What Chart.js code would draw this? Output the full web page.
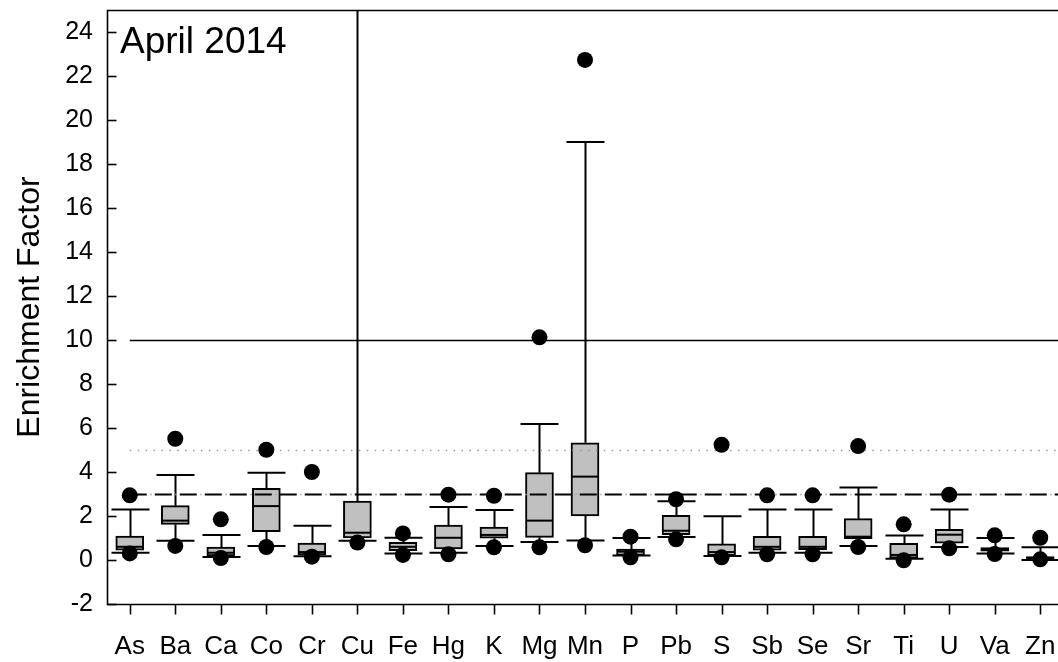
<!DOCTYPE html>
<html>
<head>
<meta charset="utf-8">
<title>Enrichment Factor - April 2014</title>
<script src="https://cdn.jsdelivr.net/npm/chart.js@4.4.1/dist/chart.umd.min.js"></script>
<style>
  html, body { margin: 0; padding: 0; background: #fff; overflow: hidden; }
  canvas { display: block; }
</style>
</head>
<body>
<canvas id="chart" width="1058" height="662"></canvas>
<script>
// Element names along the x axis
const elements = ['As','Ba','Ca','Co','Cr','Cu','Fe','Hg','K','Mg','Mn','P','Pb','S','Sb','Se','Sr','Ti','U','Va','Zn'];

// Box plot statistics per element (enrichment factor)
const pctLow      = [0.30, 0.64, 0.09, 0.59, 0.15, 0.79, 0.23, 0.26, 0.58, 0.58, 0.67, 0.12, 0.94, 0.12, 0.26, 0.26, 0.59, -0.01, 0.53, 0.27, 0.03];
const whiskerLow  = [0.33, 0.88, 0.14, 0.64, 0.17, 0.88, 0.29, 0.33, 0.64, 0.82, 0.89, 0.21, 1.05, 0.18, 0.33, 0.33, 0.64, 0.06, 0.59, 0.30, 0.00];
const quartile1   = [0.45, 1.62, 0.18, 1.29, 0.23, 1.00, 0.42, 0.50, 0.99, 1.03, 2.00, 0.21, 1.15, 0.20, 0.45, 0.47, 0.97, 0.08, 0.76, 0.40, 0.03];
const median      = [0.60, 1.79, 0.33, 2.45, 0.36, 1.24, 0.60, 1.01, 1.14, 1.79, 3.79, 0.38, 1.33, 0.36, 0.60, 0.60, 1.06, 0.23, 1.15, 0.47, 0.09];
const quartile3   = [1.09, 2.47, 0.59, 3.26, 0.77, 2.68, 0.80, 1.59, 1.50, 3.97, 5.33, 0.50, 2.03, 0.73, 1.08, 1.08, 1.88, 0.76, 1.39, 0.56, 0.15];
const whiskerHigh = [2.29, 3.86, 1.14, 3.97, 1.56, 30.0, 1.01, 2.41, 2.27, 6.18, 19.0, 1.00, 2.67, 1.99, 2.29, 2.29, 3.30, 1.11, 2.30, 1.00, 0.58];
const pctHigh     = [2.94, 5.51, 1.85, 5.01, 4.00, null, 1.21, 2.97, 2.92, 10.12, 22.73, 1.06, 2.76, 5.24, 2.94, 2.94, 5.18, 1.62, 2.97, 1.12, 1.01];

// Y axis tick values and reference levels
const yTickValues = [-2, 0, 2, 4, 6, 8, 10, 12, 14, 16, 18, 20, 22, 24];
const solidLevel = 10;
const dottedLevel = 5;
const dashedLevel = 3;

const FONT = '"Liberation Sans", Arial, Helvetica, sans-serif';

const boxData = elements.map((_, i) => ({ x: i, y: [quartile1[i], quartile3[i]] }));
const lowDots = elements.map((_, i) => ({ x: i, y: pctLow[i] }));
const highDots = elements.map((_, i) => ({ x: i, y: pctHigh[i] })).filter(p => p.y !== null);

// Whiskers, medians, reference lines, axes frame and the in-plot label
const boxExtras = {
  id: 'boxExtras',
  beforeDatasetsDraw(chart) {
    const { ctx, chartArea: a, scales: { x, y } } = chart;
    ctx.save();
    ctx.beginPath();
    ctx.rect(a.left, a.top, a.right - a.left, a.bottom - a.top);
    ctx.clip();
    ctx.strokeStyle = '#000';
    ctx.lineWidth = 2;
    const capHalf = 19;
    elements.forEach((_, i) => {
      const px = Math.round(x.getPixelForValue(i)) + 0.5;
      const yHi = y.getPixelForValue(whiskerHigh[i]);
      const yLo = y.getPixelForValue(whiskerLow[i]);
      const yQ1 = y.getPixelForValue(quartile1[i]);
      const yQ3 = y.getPixelForValue(quartile3[i]);
      ctx.beginPath();
      ctx.moveTo(px, yQ3); ctx.lineTo(px, yHi);
      ctx.moveTo(px, yQ1); ctx.lineTo(px, yLo);
      ctx.moveTo(px - capHalf, yHi); ctx.lineTo(px + capHalf, yHi);
      ctx.moveTo(px - capHalf, yLo); ctx.lineTo(px + capHalf, yLo);
      ctx.stroke();
    });
    ctx.restore();
  },
  afterDatasetDraw(chart, args) {
    if (args.index !== 0) return;
    const { ctx, chartArea: a, scales: { x, y } } = chart;
    ctx.save();
    ctx.beginPath();
    ctx.rect(a.left, a.top, a.right - a.left, a.bottom - a.top);
    ctx.clip();
    // medians
    ctx.strokeStyle = '#000';
    ctx.lineWidth = 2;
    elements.forEach((_, i) => {
      const px = x.getPixelForValue(i);
      const py = y.getPixelForValue(median[i]);
      ctx.beginPath();
      ctx.moveTo(px - 13, py); ctx.lineTo(px + 13, py);
      ctx.stroke();
    });
    const x0 = x.getPixelForValue(0);
    const x1 = a.right;
    // solid line
    let py = Math.round(y.getPixelForValue(solidLevel)) + 0.5;
    ctx.lineWidth = 1.6;
    ctx.beginPath(); ctx.moveTo(x0, py); ctx.lineTo(x1, py); ctx.stroke();
    // dotted grey line
    py = Math.round(y.getPixelForValue(dottedLevel)) + 0.5;
    ctx.strokeStyle = '#9a9a9a';
    ctx.lineWidth = 1.5;
    ctx.setLineDash([1.5, 6.4]);
    ctx.beginPath(); ctx.moveTo(x0, py); ctx.lineTo(x1, py); ctx.stroke();
    // dashed line with faint dots in the gaps
    py = Math.round(y.getPixelForValue(dashedLevel)) + 0.5;
    ctx.strokeStyle = '#000';
    ctx.lineWidth = 2;
    ctx.setLineDash([17, 8]);
    ctx.beginPath(); ctx.moveTo(x0, py); ctx.lineTo(x1, py); ctx.stroke();
    ctx.strokeStyle = '#a0a0a0';
    ctx.lineWidth = 1.5;
    ctx.setLineDash([1.5, 23.5]);
    ctx.lineDashOffset = -20.5;
    ctx.beginPath(); ctx.moveTo(x0, py); ctx.lineTo(x1, py); ctx.stroke();
    ctx.restore();
  },
  afterDraw(chart) {
    const { ctx, chartArea: a, scales: { x, y } } = chart;
    ctx.save();
    ctx.strokeStyle = '#000';
    ctx.lineWidth = 1.6;
    const L = Math.round(a.left) + 0.5, B = Math.round(a.bottom) + 0.5, T = Math.round(a.top) + 0.5;
    ctx.beginPath();
    ctx.moveTo(a.right, T); ctx.lineTo(L, T); ctx.lineTo(L, B); ctx.lineTo(a.right, B);
    ctx.stroke();
    // inward y ticks
    yTickValues.forEach(v => {
      const py = Math.round(y.getPixelForValue(v)) + 0.5;
      ctx.beginPath(); ctx.moveTo(L, py); ctx.lineTo(L + 9, py); ctx.stroke();
    });
    // outward x ticks
    elements.forEach((_, i) => {
      const px = Math.round(x.getPixelForValue(i)) + 0.5;
      ctx.beginPath(); ctx.moveTo(px, B); ctx.lineTo(px, B + 10); ctx.stroke();
    });
    // period label
    ctx.fillStyle = '#000';
    ctx.font = '37px ' + FONT;
    ctx.textAlign = 'left';
    ctx.textBaseline = 'alphabetic';
    ctx.fillText('April 2014', a.left + 13, a.top + 43);
    ctx.restore();
  }
};

new Chart(document.getElementById('chart'), {
  type: 'bar',
  data: {
    datasets: [
      {
        type: 'bar',
        label: 'Interquartile range',
        data: boxData,
        backgroundColor: '#c0c0c0',
        borderColor: '#000',
        borderWidth: 2,
        borderSkipped: false,
        barThickness: 28,
        order: 2
      },
      {
        type: 'scatter',
        label: '95th percentile',
        data: highDots,
        pointRadius: 8,
        pointBackgroundColor: '#000',
        pointBorderWidth: 0,
        showLine: false,
        order: 0
      },
      {
        type: 'scatter',
        label: '5th percentile',
        data: lowDots,
        pointRadius: 8,
        pointBackgroundColor: '#000',
        pointBorderWidth: 0,
        showLine: false,
        order: 1
      }
    ]
  },
  options: {
    responsive: false,
    animation: false,
    devicePixelRatio: 1,
    layout: { autoPadding: false, padding: { top: 10, left: 0, right: 0, bottom: 0 } },
    plugins: { legend: { display: false }, tooltip: { enabled: false } },
    scales: {
      x: {
        type: 'linear',
        // the plot frame runs past the page edge; only this part of the last slot is shown
        min: -0.5,
        max: 20.39,
        offset: false,
        grid: { display: false, drawTicks: false },
        border: { display: false },
        afterBuildTicks: s => { s.ticks = elements.map((_, i) => ({ value: i })); },
        afterFit: s => { s.height = 58; s.paddingLeft = 0; s.paddingRight = 0; },
        ticks: {
          autoSkip: false,
          maxRotation: 0,
          padding: 27,
          color: '#000',
          font: { family: FONT, size: 26 },
          callback: v => elements[Math.round(v)]
        }
      },
      y: {
        type: 'linear',
        min: -2,
        max: 25,
        grid: { display: false, drawTicks: false },
        border: { display: false },
        afterBuildTicks: s => { s.ticks = yTickValues.map(v => ({ value: v })); },
        afterFit: s => { s.width = 107; s.paddingTop = 0; s.paddingBottom = 0; },
        ticks: {
          padding: 14,
          color: '#000',
          font: { family: FONT, size: 25 },
          callback: v => String(v)
        },
        title: {
          display: true,
          text: 'Enrichment Factor',
          color: '#000',
          font: { family: FONT, size: 32 },
          padding: { top: 11, bottom: 0 }
        }
      }
    }
  },
  plugins: [boxExtras]
});
</script>
</body>
</html>
